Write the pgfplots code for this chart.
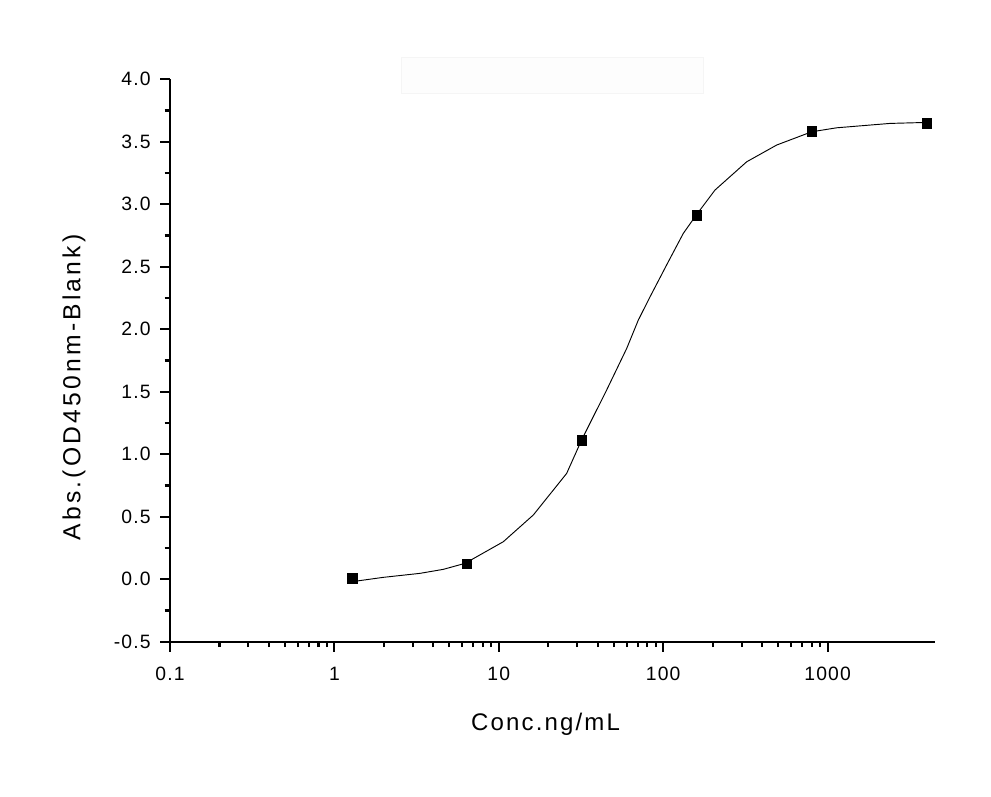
\documentclass[border=0pt]{standalone}
\usepackage{fontspec}
\setmainfont{Liberation Sans}[LetterSpace=6]
\usepackage{pgfplots}
\pgfplotsset{compat=1.18}

% measured points (ELISA standard curve)
\pgfplotstableread{
conc od
1.28 0.010
6.4 0.125
32 1.110
160 2.910
800 3.585
4000 3.650
}\standards

% fitted curve
\pgfplotstableread{
conc od
1.274 -0.020
1.984 0.015
3.317 0.047
4.597 0.079
6.23 0.127
10.65 0.300
16.22 0.514
25.88 0.847
31.9 1.114
45.3 1.514
60.0 1.847
70.6 2.074
83.2 2.260
107.4 2.540
132.5 2.767
159.9 2.919
206.6 3.114
322 3.340
490 3.474
800 3.580
1136 3.612
2397 3.647
4008 3.655
}\fitcurve

\begin{document}
\begin{tikzpicture}
\begin{axis}[
    scale only axis,
    width=573.75pt,
    height=421.8pt,
    xmode=log,
    xmin=0.1, xmax=4500,
    ymin=-0.5, ymax=4.0,
    axis x line*=bottom,
    axis y line*=left,
    axis line style={line width=1.6pt},
    tick align=outside,
    major tick length=7.5pt,
    minor tick length=4pt,
    every tick/.style={black, line width=1.6pt},
    xtick={0.1,1,10,100,1000},
    xticklabels={0.1,1,10,100,1000},
    ytick={-0.5,0,0.5,1,1.5,2,2.5,3,3.5,4},
    yticklabels={-0.5,0.0,0.5,1.0,1.5,2.0,2.5,3.0,3.5,4.0},
    minor y tick num=1,
    ticklabel style={font=\fontsize{14.5}{17}\selectfont},
    xticklabel style={yshift=-8pt},
    yticklabel style={xshift=-3.5pt},
    xlabel={Conc.ng/mL},
    ylabel={Abs.(OD450nm-Blank)},
    xlabel style={font=\fontsize{18}{21}\selectfont\addfontfeature{LetterSpace=9},
        at={(rel axis cs:0.491,-0.147)}, anchor=center},
    ylabel style={font=\fontsize{18.5}{21}\selectfont\addfontfeature{LetterSpace=13},
        at={(rel axis cs:-0.1255,0.452)}, anchor=center, rotate=0},
    clip=false,
]
% keep the page the size of the reference
\path (rel axis cs:-0.2222,-0.2744) rectangle (rel axis cs:1.0732,1.141);
% faint empty legend box seen at the top
\draw[draw=black!4, fill=black!0.8] (rel axis cs:0.302,0.975) rectangle (rel axis cs:0.697,1.040);

\addplot[black, line width=0.7pt, mark=none] table[x=conc, y=od] {\fitcurve};
\addplot[only marks, mark=square*, mark size=3.6pt, mark options={fill=black, draw=black}] table[x=conc, y=od] {\standards};
\end{axis}
\end{tikzpicture}
\end{document}
